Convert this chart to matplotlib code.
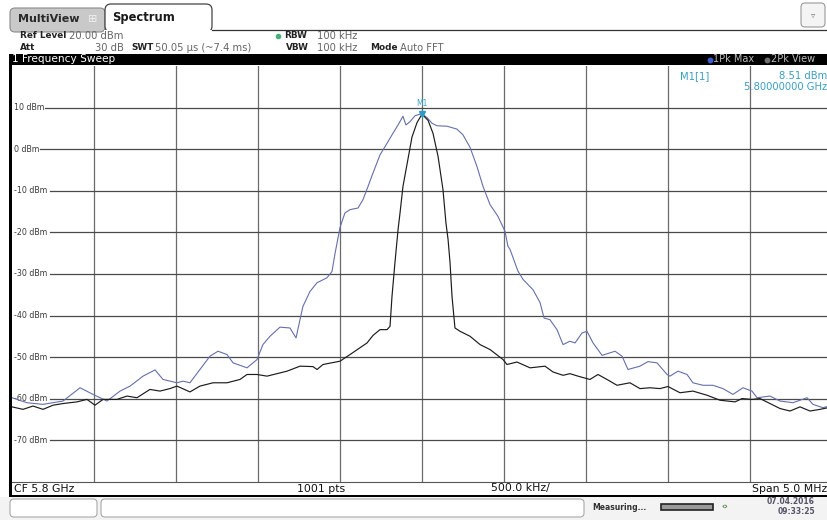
import matplotlib
matplotlib.use('Agg')
import matplotlib.pyplot as plt
from matplotlib.patches import Rectangle, FancyBboxPatch

plt.rcParams['font.family'] = ['DejaVu Sans']

# ---------------- data (frequency offset from CF in MHz, level in dBm) ----------------
center_label = "CF 5.8 GHz"
points_label = "1001 pts"
div_label = "500.0 kHz/"
span_label = "Span 5.0 MHz"
y_ticks = [10, 0, -10, -20, -30, -40, -50, -60, -70]
y_tick_labels = ["10 dBm", "0 dBm", "-10 dBm", "-20 dBm", "-30 dBm", "-40 dBm",
                 "-50 dBm", "-60 dBm", "-70 dBm"]
x_grid = [-2.0, -1.5, -1.0, -0.5, 0.0, 0.5, 1.0, 1.5, 2.0]
marker_f = 0.0
marker_db = 8.51

# trace 1 : 1Pk Max (blue)
blue_f = [-2.500, -2.409, -2.311, -2.189, -2.085, -2.006, -1.921, -1.841, -1.780, -1.701,
          -1.628, -1.579, -1.494, -1.457, -1.415, -1.354, -1.293, -1.244, -1.189, -1.152,
          -1.067, -1.006, -0.970, -0.927, -0.866, -0.805, -0.768, -0.744, -0.726, -0.683,
          -0.640, -0.579, -0.549, -0.530, -0.500, -0.470, -0.439, -0.390, -0.360, -0.329,
          -0.299, -0.256, -0.213, -0.177, -0.146, -0.116, -0.098, -0.073, -0.043, -0.006,
          0.000, 0.030, 0.061, 0.091, 0.152, 0.213, 0.250, 0.293, 0.335, 0.372,
          0.415, 0.463, 0.506, 0.524, 0.537, 0.585, 0.616, 0.677, 0.720, 0.744,
          0.780, 0.823, 0.860, 0.902, 0.933, 0.976, 1.006, 1.043, 1.098, 1.177,
          1.220, 1.256, 1.329, 1.378, 1.433, 1.494, 1.512, 1.561, 1.616, 1.652,
          1.713, 1.774, 1.835, 1.896, 1.957, 2.012, 2.043, 2.122, 2.183, 2.262,
          2.348, 2.384, 2.445, 2.500]
blue_db = [-59.8, -61.0, -61.4, -60.6, -57.4, -59.0, -60.6, -58.2, -57.0, -54.6,
           -53.1, -55.4, -56.2, -55.8, -56.2, -53.0, -49.8, -48.6, -49.4, -51.4,
           -52.6, -50.6, -47.0, -45.0, -42.8, -43.0, -45.4, -41.0, -37.8, -34.2,
           -32.1, -30.9, -29.4, -25.0, -18.8, -15.3, -14.5, -14.1, -12.1, -8.9,
           -5.7, -1.3, 1.5, 3.9, 5.9, 8.0, 5.9, 6.7, 8.1, 8.6,
           8.51, 7.7, 6.3, 5.7, 5.6, 4.9, 3.5, 0.5, -4.1, -8.9,
           -13.3, -16.1, -19.7, -23.3, -24.1, -29.3, -31.3, -33.8, -36.9, -40.6,
           -41.0, -43.4, -47.0, -46.2, -46.6, -44.2, -43.8, -46.6, -49.6, -48.6,
           -49.8, -53.0, -52.2, -51.1, -51.4, -54.2, -54.6, -53.4, -54.2, -56.2,
           -56.8, -56.8, -57.6, -59.0, -57.4, -58.2, -59.8, -59.4, -60.6, -61.0,
           -59.8, -61.4, -62.2, -61.6]

# trace 2 : 2Pk View (black)
black_f = [-2.500, -2.433, -2.372, -2.311, -2.250, -2.189, -2.104, -2.043, -1.994, -1.945,
           -1.860, -1.799, -1.738, -1.659, -1.598, -1.537, -1.494, -1.415, -1.354, -1.274,
           -1.189, -1.110, -1.067, -1.006, -0.945, -0.884, -0.823, -0.744, -0.665, -0.640,
           -0.604, -0.500, -0.439, -0.335, -0.299, -0.256, -0.213, -0.195, -0.183, -0.165,
           -0.146, -0.134, -0.116, -0.091, -0.061, -0.030, 0.000, 0.037, 0.067, 0.098,
           0.128, 0.146, 0.159, 0.171, 0.183, 0.201, 0.232, 0.293, 0.354, 0.415,
           0.494, 0.518, 0.579, 0.659, 0.750, 0.799, 0.860, 0.902, 0.951, 1.024,
           1.073, 1.128, 1.189, 1.268, 1.329, 1.390, 1.451, 1.500, 1.573, 1.652,
           1.738, 1.817, 1.909, 1.951, 2.012, 2.061, 2.122, 2.183, 2.244, 2.305,
           2.366, 2.427, 2.500]
black_db = [-62.0, -62.6, -61.8, -62.6, -61.6, -61.2, -60.8, -60.2, -61.6, -60.2,
            -60.2, -59.4, -59.8, -57.8, -58.2, -57.6, -57.0, -58.4, -57.0, -56.2,
            -56.2, -55.4, -54.2, -54.2, -54.6, -54.0, -53.4, -52.2, -52.3, -53.0,
            -51.8, -51.0, -49.4, -46.6, -44.8, -43.4, -43.4, -42.6, -35.4, -27.3,
            -19.3, -15.3, -8.9, -3.5, 3.0, 6.5, 8.5, 7.0, 3.9, -1.7,
            -9.7, -17.7, -21.7, -27.3, -35.4, -43.0, -43.8, -45.0, -47.0, -48.2,
            -50.6, -51.8, -51.2, -52.6, -52.2, -53.6, -54.4, -54.0, -54.6, -55.4,
            -54.2, -55.4, -56.8, -56.2, -57.6, -57.4, -57.6, -57.1, -58.6, -58.2,
            -59.2, -60.4, -60.8, -60.0, -60.2, -60.0, -61.2, -62.4, -63.0, -62.0,
            -63.0, -62.6, -62.0]

# ---------------- figure ----------------
W, H = 828, 520
fig = plt.figure(figsize=(W / 100, H / 100), dpi=100)
fig.patch.set_facecolor('white')

L, T, R, B = 12, 66.4, 832, 481.6
ax = fig.add_axes([L / W, 1 - B / H, (R - L) / W, (B - T) / H])
ax.set_xlim(-2.5, 2.5)
ax.set_ylim(-80, 20)
for s in ax.spines.values():
    s.set_visible(False)
ax.set_xticks([])
ax.set_yticks([])

grid_col = '#6b6b6b'
for xv in x_grid:
    ax.axvline(xv, color=grid_col, lw=0.9, zorder=1)
for v, lab in zip(y_ticks, y_tick_labels):
    x0 = (3 + 5.0 * len(lab)) / (R - L)
    ax.axhline(v, xmin=x0, xmax=1, color='#4a4a4a', lw=0.9, zorder=1)
    ax.text(-2.5 + 2.5 / 164, v, lab, fontsize=5.7, va='center', ha='left',
            color='#3a3a3a', zorder=2)

ax.plot(blue_f, blue_db, color='#6470aa', lw=0.8, zorder=3)
ax.plot(black_f, black_db, color='#1c1c1c', lw=0.85, zorder=4)
ax.plot([marker_f], [marker_db], marker='v', color='#2b9cc4', ms=4.5, zorder=5)
ax.annotate('M1', (marker_f, marker_db), xytext=(0, 4.5), textcoords='offset points',
            ha='center', va='bottom', fontsize=5.5, color='#3ca2c4', zorder=5)

# ---------------- overlay (pixel coords) ----------------
ov = fig.add_axes([0, 0, 1, 1], zorder=10)
ov.set_xlim(0, W)
ov.set_ylim(H, 0)
ov.axis('off')
ov.patch.set_alpha(0)

# tabs
ov.add_patch(FancyBboxPatch((10, 8), 95, 24, boxstyle='round,pad=0,rounding_size=5',
                            fc='#c9c9c9', ec='#8a8a8a', lw=0.8))
ov.text(18, 19.5, 'MultiView', fontsize=8, fontweight='bold', color='#2a2a2a', va='center')
ov.text(93, 19.5, '\u229e', fontsize=8, color='#f0f0f0', va='center', ha='center')
ov.add_patch(FancyBboxPatch((105, 4), 107, 28, boxstyle='round,pad=0,rounding_size=6',
                            fc='white', ec='#444444', lw=0.9))
ov.add_patch(Rectangle((104, 29.5), 110, 3, fc='white', ec='none'))
ov.plot([212, 828], [30, 30], color='#333333', lw=0.9)
ov.add_patch(FancyBboxPatch((801, 3), 24, 24, boxstyle='round,pad=0,rounding_size=4',
                            fc='#f4f4f4', ec='#9a9a9a', lw=0.8))
ov.text(813, 15, '\u25bf', fontsize=6, color='#777777', ha='center', va='center')
ov.text(112, 17, 'Spectrum', fontsize=8.3, fontweight='bold', color='#1a1a1a', va='center')

# header info
hb = 6.4   # bold labels
hv = 7.2   # values
ov.text(20, 36, 'Ref Level', fontsize=hb, fontweight='bold', color='#222', va='center')
ov.text(69, 36, '20.00 dBm', fontsize=hv, color='#666', va='center')
ov.text(20, 48, 'Att', fontsize=hb, fontweight='bold', color='#222', va='center')
ov.text(124, 48, '30 dB', fontsize=hv, color='#666', va='center', ha='right')
ov.text(131, 48, 'SWT', fontsize=hb, fontweight='bold', color='#222', va='center')
ov.text(155, 48, '50.05 \u00b5s (~7.4 ms)', fontsize=hv, color='#666', va='center')
ov.plot([278], [36], marker='o', ms=3, color='#49b07a')
ov.text(284, 36, 'RBW', fontsize=hb, fontweight='bold', color='#222', va='center')
ov.text(317, 36, '100 kHz', fontsize=hv, color='#666', va='center')
ov.text(286, 48, 'VBW', fontsize=hb, fontweight='bold', color='#222', va='center')
ov.text(317, 48, '100 kHz', fontsize=hv, color='#666', va='center')
ov.text(370, 48, 'Mode', fontsize=hb, fontweight='bold', color='#222', va='center')
ov.text(400, 48, 'Auto FFT', fontsize=hv, color='#666', va='center')

# black title bar
ov.add_patch(Rectangle((9, 54), 830, 10.5, fc='black', ec='none'))
ov.text(12, 59.5, '1 Frequency Sweep', fontsize=7.6, color='white', va='center')
ov.plot([710], [59.5], marker='o', ms=3.2, color='#3b5bd0')
ov.text(713, 59.5, '1Pk Max', fontsize=7, color='#bdbdbd', va='center')
ov.plot([767], [59.5], marker='o', ms=3.2, color='#6e6e6e')
ov.text(771, 59.5, '2Pk View', fontsize=7, color='#bdbdbd', va='center')

# marker readout
ov.text(680, 76, 'M1[1]', fontsize=7.2, color='#3a9fc2', va='center')
ov.text(827, 76, '8.51 dBm', fontsize=7.2, color='#3a9fc2', va='center', ha='right')
ov.text(827, 87, '5.80000000 GHz', fontsize=7.2, color='#3a9fc2', va='center', ha='right')

# left border
ov.add_patch(Rectangle((9, 54), 3, 443, fc='black', ec='none'))

# status bar
ov.add_patch(Rectangle((12, 482), 820, 12.5, fc='white', ec='none'))
ov.plot([12, 828], [482.3, 482.3], color='#555555', lw=0.8)
ov.text(14, 488.5, center_label, fontsize=7.8, color='#111', va='center')
ov.text(297, 488.5, points_label, fontsize=7.8, color='#111', va='center')
ov.text(491, 488.5, div_label, fontsize=7.8, color='#111', va='center')
ov.text(827, 488.5, span_label, fontsize=7.8, color='#111', va='center', ha='right')
ov.add_patch(Rectangle((9, 494.5), 830, 2.5, fc='black', ec='none'))

# bottom panel
ov.add_patch(Rectangle((0, 497), W, 23, fc='#f3f3f3', ec='none'))
ov.add_patch(FancyBboxPatch((10, 499), 87, 18, boxstyle='round,pad=0,rounding_size=4',
                            fc='white', ec='#a8a8a8', lw=0.8))
ov.add_patch(FancyBboxPatch((101, 499), 483, 18, boxstyle='round,pad=0,rounding_size=4',
                            fc='white', ec='#a8a8a8', lw=0.8))
ov.text(592, 507, 'Measuring...', fontsize=5.5, fontweight='bold', color='#333', va='center')
ov.add_patch(Rectangle((661, 504), 52, 6, fc='#9a9a9a', ec='#222', lw=1.2))
ov.text(725, 507, '\u2039\u203a', fontsize=6, fontweight='bold', color='#4f7a3a', va='center', ha='center')
ov.text(815, 501.5, '07.04.2016', fontsize=5.5, fontweight='bold', color='#556', va='center', ha='right')
ov.text(815, 512, '09:33:25', fontsize=5.5, fontweight='bold', color='#556', va='center', ha='right')

fig.savefig('out.png', dpi=100, facecolor='white')
